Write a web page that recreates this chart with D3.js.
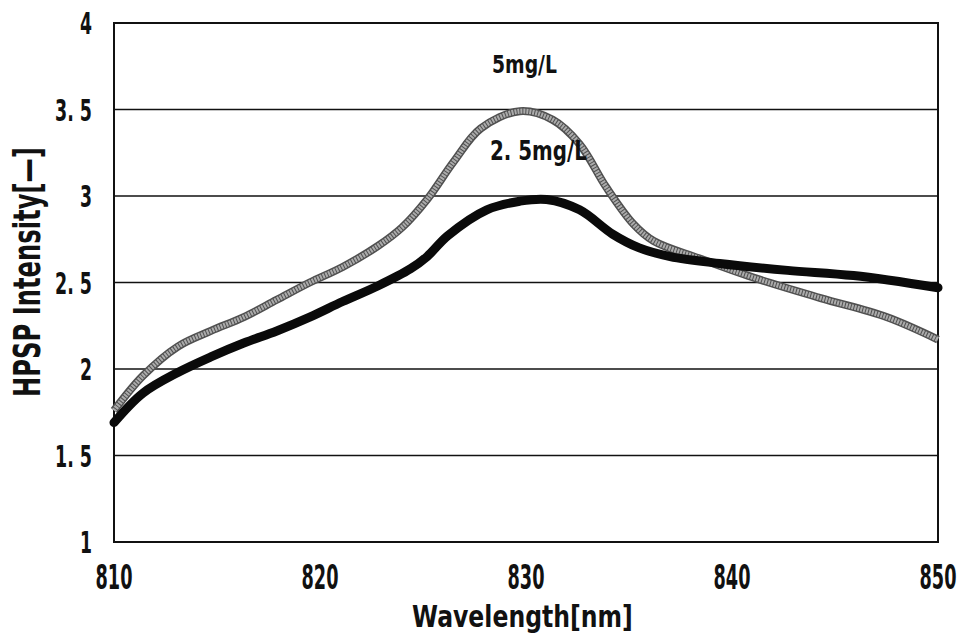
<!DOCTYPE html>
<html>
<head>
<meta charset="utf-8">
<script src="https://cdn.jsdelivr.net/npm/d3@7"></script>
<style>
  html, body { margin: 0; padding: 0; background: #fff; }
  svg { display: block; }
  text { font-family: "DejaVu Sans", "Noto Sans", sans-serif; fill: #111; }
</style>
</head>
<body>
<svg id="chart" width="962" height="635"></svg>
<script>
// HPSP intensity spectra for two concentrations
const xTicks = [810, 820, 830, 840, 850];
const yTicks = [1, 1.5, 2, 2.5, 3, 3.5, 4];
const yTickLabels = ["1", "1. 5", "2", "2. 5", "3", "3. 5", "4"];

const wl5 = [810, 811.4, 813.1, 814.7, 816.3, 817.9, 819.5, 821.1, 822.8, 824.0, 825.2, 826.5, 827.8, 829.7, 831.3, 832.6, 833.9, 835.2, 836.2, 838.4, 841, 844.3, 847.5, 850];
const int5 = [1.76, 1.96, 2.13, 2.22, 2.30, 2.40, 2.50, 2.59, 2.71, 2.82, 2.98, 3.20, 3.39, 3.49, 3.44, 3.30, 3.05, 2.84, 2.74, 2.64, 2.53, 2.41, 2.30, 2.17];

const wl25 = [810, 811.4, 813.1, 814.7, 816.3, 817.9, 819.5, 821.1, 822.8, 824.4, 825.2, 826.2, 828.1, 829.7, 831, 832.6, 834.2, 835.5, 837, 839.4, 842.7, 845.9, 850];
const int25 = [1.69, 1.86, 1.98, 2.07, 2.15, 2.22, 2.30, 2.39, 2.48, 2.58, 2.65, 2.77, 2.92, 2.97, 2.98, 2.92, 2.78, 2.70, 2.65, 2.61, 2.57, 2.54, 2.47];

const seriesLabels = ["5mg/L", "2. 5mg/L"];
const xTitle = "Wavelength[nm]";
const yTitle = "HPSP Intensity[—]";

const svg = d3.select("#chart");
const m = { left: 114, right: 938, top: 23, bottom: 542 };

const x = d3.scaleLinear().domain([810, 850]).range([m.left, m.right]);
const y = d3.scaleLinear().domain([1, 4]).range([m.bottom, m.top]);

// narrow gothic-style text: horizontally scaled to a target width
function label(parent, str, px, py, opt) {
  const o = Object.assign({ size: 28, anchor: "start", rotate: 0, weight: "bold" }, opt);
  const g = parent.append("g").attr("transform", `translate(${px},${py}) rotate(${o.rotate})`);
  const t = g.append("text").text(str)
    .style("font-size", o.size + "px").style("font-weight", o.weight)
    .attr("text-anchor", o.anchor);
  const len = t.node().getComputedTextLength();
  t.attr("transform", `scale(${o.width / len},1)`);
  return g;
}

// horizontal gridlines
svg.append("g").selectAll("line").data(yTicks).join("line")
  .attr("x1", m.left).attr("x2", m.right)
  .attr("y1", d => y(d)).attr("y2", d => y(d))
  .attr("stroke", "#111").attr("stroke-width", 1.5);

// frame
svg.append("rect")
  .attr("x", m.left).attr("y", m.top)
  .attr("width", m.right - m.left).attr("height", m.bottom - m.top)
  .attr("fill", "none").attr("stroke", "#111").attr("stroke-width", 2);

// x tick labels
const gx = svg.append("g");
xTicks.forEach(v => label(gx, String(v), x(v), 589, { size: 33, anchor: "middle", width: 37 }));

// y tick labels
const gy = svg.append("g");
yTicks.forEach((v, i) => {
  const s = yTickLabels[i];
  label(gy, s, 92, y(v) + 11, { size: 31, anchor: "end", width: s.length === 1 ? 12 : 37 });
});

const line = d3.line().x(d => x(d[0])).y(d => y(d[1])).curve(d3.curveCatmullRom.alpha(0.5));
const pts5 = wl5.map((w, i) => [w, int5[i]]);
const pts25 = wl25.map((w, i) => [w, int25[i]]);

// 5 mg/L: grey band with dark edges
svg.append("path").attr("d", line(pts5))
  .attr("fill", "none").attr("stroke", "#505050").attr("stroke-width", 8);
svg.append("path").attr("d", line(pts5))
  .attr("fill", "none").attr("stroke", "#ababab").attr("stroke-width", 5)
  .attr("stroke-dasharray", "2 1");

// 2.5 mg/L: solid black band
svg.append("path").attr("d", line(pts25))
  .attr("fill", "none").attr("stroke", "#0a0a0a").attr("stroke-width", 9).attr("stroke-linecap", "round");

// series labels
label(svg, seriesLabels[0], 492, 73, { size: 25, width: 65 });
label(svg, seriesLabels[1], 490, 160, { size: 26, width: 97 });

// axis titles
label(svg, xTitle, 412, 627, { size: 31, width: 221 });
label(svg, yTitle, 40, 397, { size: 37, width: 250, rotate: -90 });
</script>
</body>
</html>
